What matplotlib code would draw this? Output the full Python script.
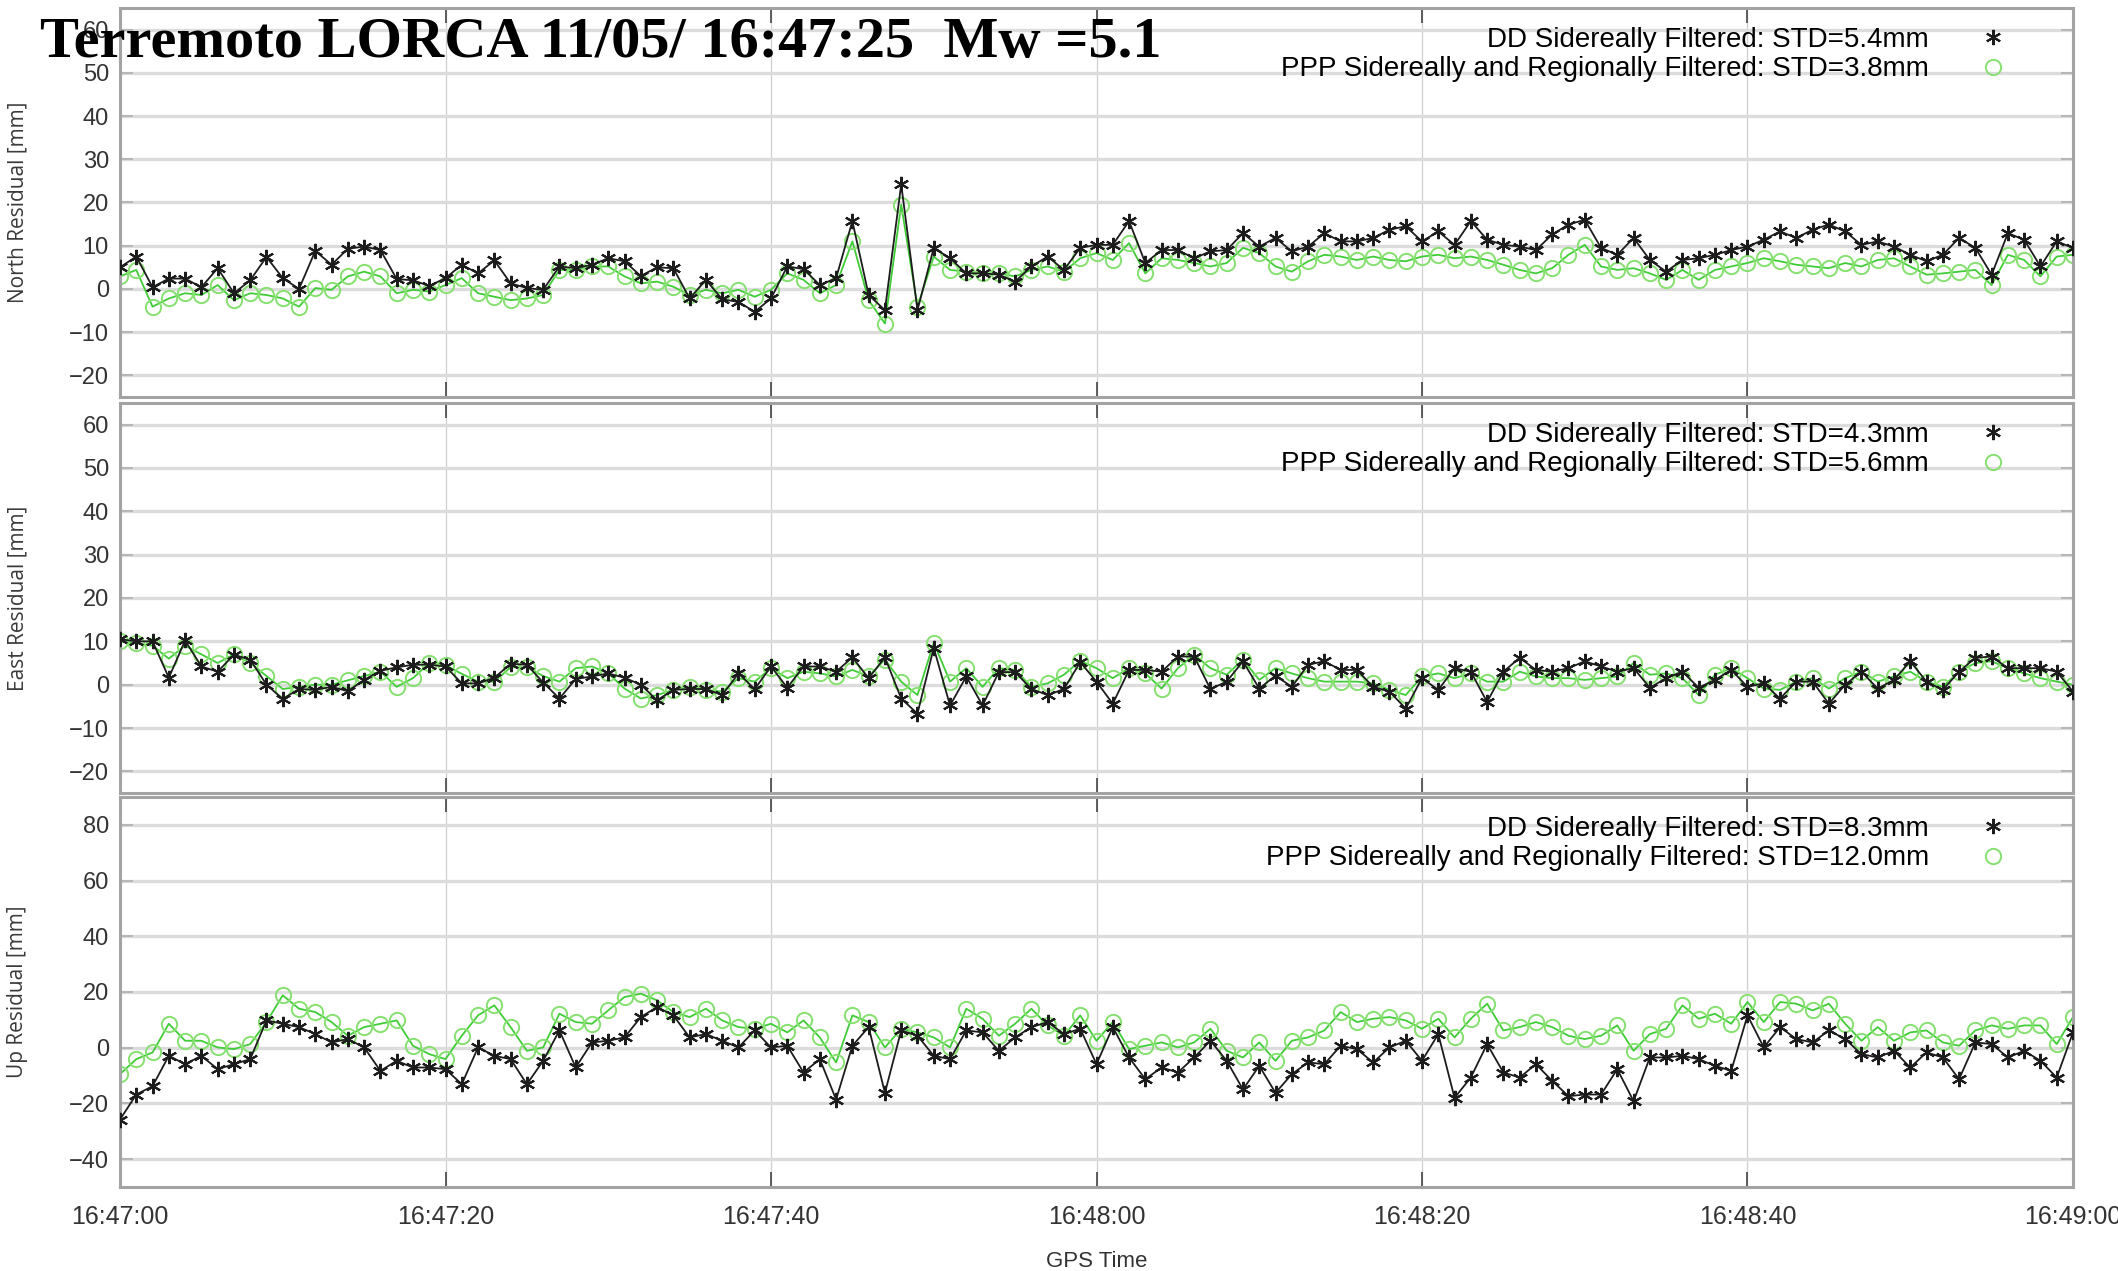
import numpy as np
import matplotlib
matplotlib.use("Agg")
import matplotlib.pyplot as plt
from matplotlib.lines import Line2D
from matplotlib.ticker import FuncFormatter, MultipleLocator

plt.rcParams['font.family'] = ['Liberation Sans Narrow', 'Liberation Sans', 'DejaVu Sans']

# segundos desde as 16:47:00 (1 Hz)
t_sec = np.arange(0, 121)

north_dd = [5.0, 7.5, 0.4, 2.4, 2.4, 0.4, 4.8, -1.0, 2.0, 7.4, 2.5, 0.0, 8.8, 5.6, 9.3, 9.8, 9.0, 2.3, 2.0, 0.7,
            2.5, 5.6, 3.6, 6.6, 1.3, 0.2, -0.2, 5.2, 4.8, 5.6, 7.1, 6.4, 3.0, 5.0, 4.8, -2.2, 2.1, -2.4, -3.0, -5.3,
            -2.2, 5.2, 4.6, 0.9, 2.5, 15.7, -1.4, -4.9, 24.2, -4.9, 9.5, 7.1, 3.6, 3.6, 3.3, 1.7, 5.2, 7.5, 4.4, 9.5,
            10.2, 10.2, 15.7, 6.0, 9.0, 9.0, 7.1, 8.7, 9.0, 12.9, 9.8, 11.8, 8.7, 9.8, 12.9, 11.0, 11.0, 11.8, 13.7, 14.5,
            11.0, 13.3, 10.2, 15.7, 11.4, 10.2, 9.8, 9.0, 12.6, 14.9, 16.0, 9.5, 7.9, 11.8, 6.7, 4.0, 6.7, 7.1, 7.9, 9.0,
            9.8, 11.4, 13.3, 11.8, 13.7, 14.9, 13.3, 10.2, 11.0, 9.8, 7.9, 6.4, 7.9, 11.8, 9.5, 3.3, 12.9, 11.4, 5.2, 11.0,
            9.5]
north_ppp = [2.9, 4.4, -4.1, -2.2, -1.0, -1.4, 0.9, -2.6, -1.0, -1.4, -2.2, -4.1, 0.2, -0.2, 2.9, 4.0, 2.9, -1.0, -0.2, -0.6,
             0.9, 2.5, -1.0, -1.8, -2.6, -2.2, -1.4, 4.4, 4.4, 5.2, 5.2, 2.9, 1.3, 1.7, 0.5, -1.4, -0.2, -1.0, -0.2, -1.8,
             -0.2, 3.6, 2.1, -1.0, 0.9, 11.0, -2.6, -8.0, 19.5, -4.1, 7.5, 4.4, 4.0, 3.6, 3.6, 2.9, 4.4, 5.2, 4.0, 7.1,
             8.3, 6.7, 10.6, 3.6, 7.1, 6.7, 6.0, 5.2, 6.0, 9.5, 8.3, 5.2, 4.0, 6.4, 7.9, 7.5, 6.7, 7.5, 6.7, 6.4,
             7.5, 7.9, 7.1, 7.5, 6.7, 5.6, 4.4, 3.6, 4.8, 7.9, 10.2, 5.2, 4.4, 4.8, 3.6, 2.1, 4.4, 2.1, 4.4, 5.2,
             6.0, 7.1, 6.4, 5.6, 5.2, 4.8, 6.0, 5.2, 6.7, 7.1, 5.2, 3.3, 3.6, 4.0, 4.4, 0.9, 7.9, 6.7, 2.9, 7.5,
             7.9]

east_dd = [10.5, 10.0, 10.0, 1.6, 10.2, 4.2, 3.0, 6.9, 5.8, 0.0, -3.3, -1.0, -1.2, -0.5, -1.5, 1.1, 3.2, 4.0, 4.6, 4.6,
           4.2, 0.3, 0.3, 1.6, 4.8, 4.6, 0.5, -3.2, 1.3, 1.9, 2.6, 1.6, 0.0, -3.6, -1.2, -1.0, -1.0, -2.4, 2.6, -1.0,
           4.2, -0.7, 4.2, 4.2, 3.0, 6.3, 1.5, 6.3, -3.2, -6.7, 8.5, -4.8, 1.9, -4.8, 2.9, 2.9, -1.0, -2.4, -1.0, 5.2,
           0.7, -4.4, 3.4, 3.4, 3.0, 6.5, 6.5, -1.0, 0.7, 5.4, -0.9, 2.1, -0.5, 4.6, 5.4, 3.4, 3.4, -0.5, -1.6, -5.5,
           1.5, -1.2, 3.8, 3.0, -4.0, 3.0, 6.2, 3.4, 3.0, 3.8, 5.4, 4.2, 3.0, 3.8, -0.7, 1.5, 3.0, -0.7, 1.1, 3.4,
           -0.5, 0.3, -3.2, 0.7, 0.7, -4.4, 0.0, 3.0, -0.9, 1.1, 5.4, 0.7, -1.2, 3.0, 6.2, 6.5, 3.8, 3.8, 3.8, 3.0,
           -1.6]
east_ppp = [10.0, 9.5, 9.0, 6.0, 9.0, 7.0, 5.0, 7.0, 5.0, 2.0, -1.0, -0.5, 0.0, 0.0, 1.0, 2.0, 3.0, -0.5, 1.5, 5.0,
            4.5, 2.5, 0.7, 0.7, 4.0, 4.0, 2.0, 0.7, 3.8, 4.2, 2.6, -0.9, -3.2, -2.4, -1.2, -0.5, -1.2, -1.6, 1.5, 0.7,
            3.8, 1.5, 3.0, 2.6, 1.9, 3.4, 1.9, 5.8, 0.7, -2.4, 9.7, 0.7, 3.8, -0.5, 3.8, 3.4, -0.5, 0.3, 2.3, 5.5,
            3.8, 1.5, 3.8, 2.6, -0.9, 3.8, 6.9, 3.8, 2.3, 5.8, 1.1, 3.8, 2.6, 1.5, 0.7, 0.7, 0.7, 0.3, -1.2, -2.4,
            1.9, 2.6, 1.5, 2.6, 0.7, 0.7, 3.0, 1.9, 1.5, 1.5, 1.1, 1.5, 1.9, 5.0, 2.3, 2.6, 1.5, -2.4, 2.3, 3.8,
            1.5, -0.9, -1.2, 0.7, 1.5, -0.9, 1.5, 3.0, 0.7, 1.9, 3.0, 0.7, -0.5, 3.0, 5.0, 5.4, 3.8, 2.6, 1.5, 0.7,
            0.0]

up_dd = [-25.8, -16.8, -13.8, -2.9, -5.9, -2.9, -7.7, -5.9, -4.1, 9.8, 8.6, 7.4, 4.9, 1.9, 3.1, 0.1, -8.3, -4.7, -7.1, -7.1,
         -7.7, -13.1, 0.1, -2.9, -4.1, -13.1, -4.7, 6.2, -7.1, 1.9, 2.5, 3.7, 11.0, 14.6, 11.6, 3.7, 4.9, 2.5, 0.1, 6.2,
         0.1, 0.7, -8.9, -4.1, -18.6, 0.7, 7.4, -16.2, 6.2, 4.3, -2.9, -4.1, 6.2, 5.5, -1.1, 3.7, 7.4, 9.2, 4.9, 6.8,
         -5.9, 7.4, -3.5, -11.3, -7.1, -8.9, -3.5, 2.5, -4.7, -15.0, -6.5, -16.2, -9.5, -5.3, -5.9, 0.7, -0.5, -5.3, 0.1, 2.5,
         -4.7, 4.9, -18.0, -10.7, 1.3, -8.9, -10.7, -5.9, -11.9, -17.4, -16.8, -16.8, -7.7, -19.2, -3.5, -3.5, -2.9, -4.1, -6.5, -8.3,
         11.6, 0.1, 7.4, 3.1, 1.9, 6.2, 3.1, -2.3, -3.5, -1.1, -7.1, -1.7, -3.5, -11.3, 1.9, 1.3, -3.5, -1.1, -4.7, -10.7,
         5.5]
up_ppp = [-9.5, -4.1, -1.7, 8.6, 2.5, 2.5, 0.1, -0.5, 1.3, 9.2, 18.8, 14.0, 12.8, 9.2, 4.3, 7.4, 8.6, 9.8, 0.7, -2.3,
          -4.1, 4.3, 11.6, 15.2, 7.4, -1.1, 0.1, 12.2, 9.2, 8.6, 13.4, 18.2, 19.4, 17.0, 12.8, 11.0, 14.0, 9.8, 7.4, 6.8,
          8.6, 5.5, 9.8, 3.7, -5.3, 11.6, 9.2, 0.1, 6.8, 5.5, 3.7, 0.1, 14.0, 10.4, 4.3, 8.6, 14.0, 8.0, 4.3, 11.6,
          2.5, 9.2, -0.5, 0.7, 1.9, 0.1, 1.9, 6.8, -1.1, -3.5, 1.9, -4.7, 2.5, 3.7, 6.2, 12.8, 9.2, 10.4, 11.0, 9.8,
          6.8, 10.4, 3.7, 10.4, 15.8, 6.2, 7.4, 9.2, 7.4, 4.3, 3.1, 4.3, 8.0, -1.1, 4.9, 6.8, 15.2, 10.4, 12.2, 8.6,
          16.4, 9.2, 16.4, 15.8, 13.4, 15.8, 8.6, 2.5, 7.4, 2.5, 5.5, 6.2, 1.9, 0.7, 6.2, 8.0, 6.8, 8.0, 8.0, 1.3,
          11.0]

panel_labels = ["North Residual [mm]", "East Residual [mm]", "Up Residual [mm]"]
dd_std = ["5.4", "4.3", "8.3"]
ppp_std = ["3.8", "5.6", "12.0"]
titulo = "Terremoto LORCA 11/05/ 16:47:25  Mw =5.1"

COR_DD = '#1c1c1c'
COR_PPP_LINHA = '#3fcc36'
COR_PPP_MARCA = '#86e070'
MARCA_DD = (6, 2, 0)


def fmt_hora(s, pos):
    total = 16 * 3600 + 47 * 60 + int(round(s))
    return f"{total // 3600:02d}:{(total % 3600) // 60:02d}:{total % 60:02d}"


def estilo_painel(ax, ylim, ystep):
    ax.set_xlim(0, 120)
    ax.set_ylim(*ylim)
    ax.set_yticks(np.arange(ylim[0] + (ystep - ylim[0] % ystep) % ystep, ylim[1] + 0.01, ystep))
    ax.xaxis.set_major_locator(MultipleLocator(20))
    ax.xaxis.set_major_formatter(FuncFormatter(fmt_hora))
    ax.grid(axis='y', color='#dcdcdc', lw=2.4, zorder=0)
    ax.grid(axis='x', color='#cfcfcf', lw=0.9, zorder=0)
    ax.set_axisbelow(True)
    for s in ax.spines.values():
        s.set_color('#a3a3a3')
        s.set_linewidth(2.2)
    ax.tick_params(axis='y', direction='in', length=9, width=1.2, color='#b0b0b0',
                   left=True, right=True, labelsize=17, labelcolor='#333333', pad=8)
    ax.tick_params(axis='x', direction='in', length=11, width=1.2, color='#444444',
                   top=True, bottom=True, labelsize=18, labelcolor='#333333', pad=13)


fig = plt.figure(figsize=(21.18, 12.71), dpi=100)
left, width = 120 / 2118, 1953 / 2118
paineis = [
    (north_dd, north_ppp, (-25, 65), 10, [left, 0.68765, width, 0.30606]),
    (east_dd, east_ppp, (-25, 65), 10, [left, 0.37608, width, 0.30685]),
    (up_dd, up_ppp, (-50, 90), 20, [left, 0.06609, width, 0.30685]),
]

axes = []
for i, (dd, ppp, ylim, ystep, pos) in enumerate(paineis):
    ax = fig.add_axes(pos)
    ax.plot(t_sec, ppp, color=COR_PPP_LINHA, lw=1.3, marker='o', ms=11, mfc='none',
            mec=COR_PPP_MARCA, mew=1.4, zorder=2)
    ax.plot(t_sec, dd, color=COR_DD, lw=1.3, marker=MARCA_DD, ms=11, mec=COR_DD, mew=1.5, zorder=3)
    estilo_painel(ax, ylim, ystep)
    ax.set_ylabel(panel_labels[i], fontsize=15, color='#3a3a3a',
                  family=['Open Sans', 'DejaVu Sans'])
    ax.yaxis.set_label_coords(-0.047, 0.5)
    if i < 2:
        ax.tick_params(axis='x', labelbottom=False)

    pegas = [Line2D([], [], ls='none', marker=MARCA_DD, ms=11, mec=COR_DD, mew=1.5),
             Line2D([], [], ls='none', marker='o', ms=11, mfc='none', mec=COR_PPP_MARCA, mew=1.4)]
    rotulos = [f"DD Sidereally Filtered: STD={dd_std[i]}mm",
               f"PPP Sidereally and Regionally Filtered: STD={ppp_std[i]}mm"]
    alt = pos[3] * 1271
    ax.legend(pegas, rotulos, loc='upper right', bbox_to_anchor=(1 - 66 / 1953, 1 - 19 / alt),
              frameon=False, markerfirst=False, fontsize=20, handlelength=1.0,
              handletextpad=1.8, labelspacing=0.12, borderpad=0, borderaxespad=0)
    axes.append(ax)

axes[-1].set_xlabel("GPS Time", fontsize=16, color='#333333', labelpad=16)

fig.text(40 / 2118, 1 - 57 / 1271, titulo, family=['Liberation Serif', 'DejaVu Serif'],
         fontweight='bold', fontsize=42, va='baseline', ha='left', color='black')

fig.savefig("out.png", dpi=100)
